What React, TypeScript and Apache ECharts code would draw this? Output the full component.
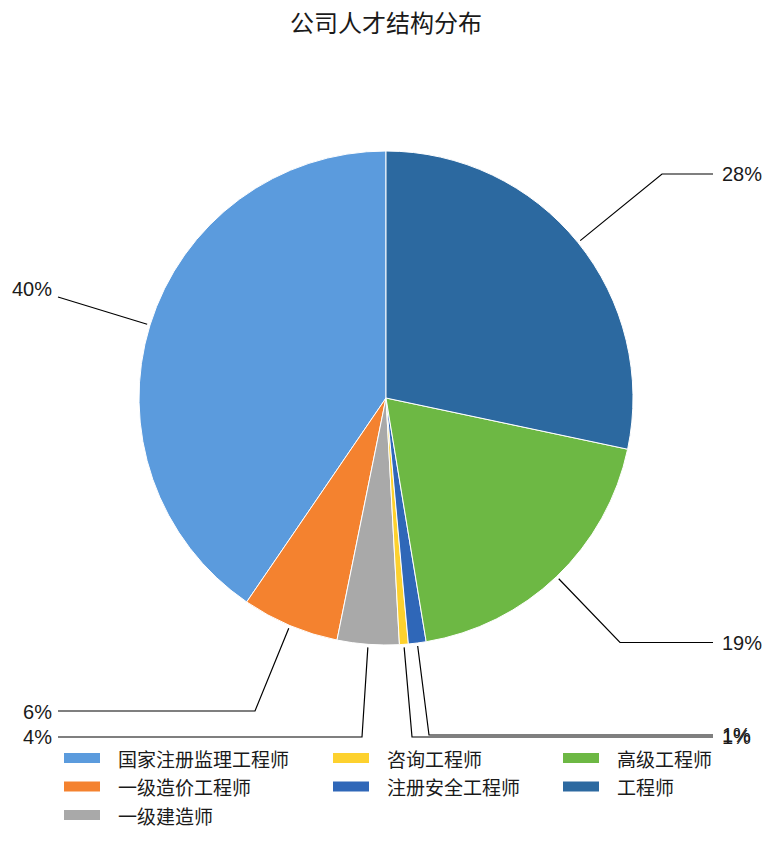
import { useEffect, useRef } from 'react';
import * as echarts from 'echarts';

const TITLE = '公司人才结构分布';
const categories = [
  '国家注册监理工程师',
  '一级造价工程师',
  '一级建造师',
  '咨询工程师',
  '注册安全工程师',
  '高级工程师',
  '工程师',
];
const values = [70, 11, 7, 1, 2, 33, 49];
const colors = ['#5B9BDD', '#F4822F', '#A9A9A9', '#FDD12E', '#2F67B8', '#6DB844', '#2C69A0'];
const legendColumns = [
  ['国家注册监理工程师', '一级造价工程师', '一级建造师'],
  ['咨询工程师', '注册安全工程师'],
  ['高级工程师', '工程师'],
];

// layout constants
const CX = 386;
const CY = 398;
const R = 247;
const LEGEND_LEFT = [62, 331, 561];
const LABEL_SPOTS: { x: number; y: number; align: string; bend: number[] | null; end: number[] }[] = [
  { x: 52, y: 289, align: 'right', bend: null, end: [58, 297] },
  { x: 52, y: 711.5, align: 'right', bend: [255, 711], end: [58, 711] },
  { x: 52, y: 737, align: 'right', bend: [362, 737], end: [58, 737] },
  { x: 722, y: 737, align: 'left', bend: [412, 737], end: [713, 737] },
  { x: 722, y: 735, align: 'left', bend: [429, 735], end: [713, 735] },
  { x: 722, y: 642.5, align: 'left', bend: [620, 642.5], end: [713, 642.5] },
  { x: 722, y: 173.5, align: 'left', bend: [662, 174], end: [713, 174] },
];

function anchor(i: number): number[] {
  const total = values.reduce((a, b) => a + b, 0);
  let cum = 0;
  for (let k = 0; k < i; k++) cum += values[k];
  const theta = (2 * Math.PI * (cum + values[i] / 2)) / total;
  const rr = R + 3;
  return [CX - rr * Math.sin(theta), CY - rr * Math.cos(theta)];
}

export default function App() {
  const ref = useRef<HTMLDivElement>(null);
  useEffect(() => {
    if (!ref.current) return;
    const chart = echarts.init(ref.current, undefined, { renderer: 'svg' });
    const option: any = {
      animation: false,
      backgroundColor: '#ffffff',
      title: {
        text: TITLE,
        left: 'center',
        top: 9,
        padding: 0,
        textStyle: {
          fontSize: 24,
          fontWeight: 'normal',
          color: '#1a1a1a',
          fontFamily: 'Noto Sans CJK SC',
        },
      },
      legend: legendColumns.map((col, k) => ({
        data: col,
        orient: 'vertical',
        left: LEGEND_LEFT[k],
        top: 748,
        padding: 0,
        itemWidth: 38,
        itemHeight: 12,
        itemGap: 8.5,
        icon: 'rect',
        selectedMode: false,
        textStyle: {
          fontSize: 19,
          lineHeight: 20,
          color: '#1a1a1a',
          fontFamily: 'Noto Sans CJK SC',
          padding: [0, 0, 0, 12],
        },
      })),
      series: [
        {
          type: 'pie',
          center: [CX, CY],
          radius: [0, R],
          startAngle: 90,
          clockwise: false,
          avoidLabelOverlap: false,
          itemStyle: { borderColor: '#ffffff', borderWidth: 1 },
          data: categories.map((name, i) => ({
            name,
            value: values[i],
            itemStyle: { color: colors[i] },
          })),
          label: {
            show: true,
            position: 'outside',
            formatter: (p: any) => Math.round(p.percent) + '%',
            fontSize: 20,
            color: '#1a1a1a',
            fontFamily: 'Liberation Sans',
          },
          labelLine: {
            show: true,
            smooth: false,
            lineStyle: { color: '#000000', width: 1.2 },
          },
          emphasis: { disabled: true },
          labelLayout: (params: any) => {
            const i = params.dataIndex;
            const spot = LABEL_SPOTS[i];
            const start = anchor(i);
            const pts = spot.bend ? [start, spot.bend, spot.end] : [start, spot.end];
            return {
              x: spot.x,
              y: spot.y,
              align: spot.align,
              verticalAlign: 'middle',
              labelLinePoints: pts,
            };
          },
        },
      ],
    };
    chart.setOption(option);
    return () => chart.dispose();
  }, []);
  return (
    <div
      ref={ref}
      style={{ position: 'fixed', left: 0, top: 0, width: 772, height: 841 }}
    />
  );
}
